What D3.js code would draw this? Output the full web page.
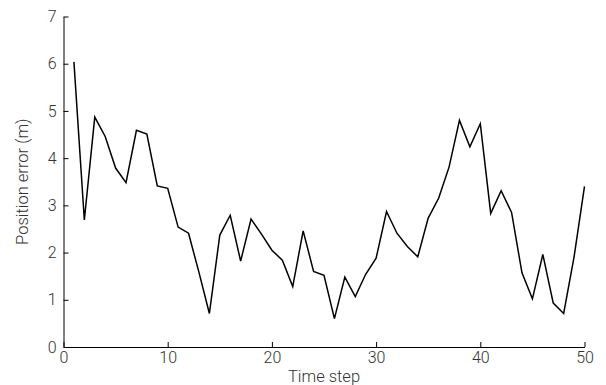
<!DOCTYPE html>
<html>
<head>
<meta charset="utf-8">
<script src="https://cdn.jsdelivr.net/npm/d3@7"></script>
<style>
  body { margin: 0; background: #fff; }
  .axis text { font-family: Roboto, "Liberation Sans", sans-serif; font-weight: 300; font-size: 16px; fill: #333; }
  .label { font-family: Roboto, "Liberation Sans", sans-serif; font-weight: 300; font-size: 16.5px; fill: #333; }
</style>
</head>
<body>
<svg id="chart" width="606" height="385"></svg>
<script>
// time steps 1..50 and the position error
const steps = d3.range(1, 51);
const errors = [
  6.04, 2.69, 4.87, 4.46, 3.79, 3.48, 4.59, 4.51, 3.41, 3.36,
  2.54, 2.41, 1.58, 0.71, 2.37, 2.79, 1.82, 2.71, 2.39, 2.05,
  1.84, 1.28, 2.46, 1.60, 1.52, 0.60, 1.48, 1.07, 1.54, 1.88,
  2.87, 2.41, 2.13, 1.91, 2.73, 3.15, 3.81, 4.80, 4.24, 4.73,
  2.83, 3.31, 2.85, 1.57, 1.02, 1.96, 0.93, 0.71, 1.91, 3.40
];
const xTicks = [0, 10, 20, 30, 40, 50];
const yTicks = [0, 1, 2, 3, 4, 5, 6, 7];

const margin = { top: 16.5, right: 21.5, bottom: 38, left: 63.5 };
const svg = d3.select('#chart');
const width = 606 - margin.left - margin.right,
      height = 385 - margin.top - margin.bottom;

const g = svg.append('g').attr('transform', `translate(${margin.left},${margin.top})`);

const x = d3.scaleLinear().domain([0, 50]).range([0, width]);
const y = d3.scaleLinear().domain([0, 7]).range([height, 0]);

g.append('g')
  .attr('class', 'axis')
  .attr('transform', `translate(0,${height})`)
  .call(d3.axisBottom(x).tickValues(xTicks).tickFormat(d3.format('d'))
    .tickSizeInner(-5).tickSizeOuter(0).tickPadding(5))
  .call(a => a.selectAll('line, path').attr('stroke', '#000'));

g.append('g')
  .attr('class', 'axis')
  .call(d3.axisLeft(y).tickValues(yTicks).tickFormat(d3.format('d'))
    .tickSizeInner(-5).tickSizeOuter(0).tickPadding(7))
  .call(a => a.selectAll('line, path').attr('stroke', '#000'));

const line = d3.line()
  .x((d, i) => x(steps[i]))
  .y(d => y(d));

g.append('path')
  .datum(errors)
  .attr('fill', 'none')
  .attr('stroke', '#000')
  .attr('stroke-width', 1.5)
  .attr('stroke-linejoin', 'miter')
  .attr('d', line);

svg.append('text')
  .attr('class', 'label')
  .attr('x', margin.left + width / 2)
  .attr('y', 382)
  .attr('text-anchor', 'middle')
  .text('Time step');

svg.append('text')
  .attr('class', 'label')
  .attr('transform', `translate(28,${margin.top + height / 2}) rotate(-90)`)
  .attr('text-anchor', 'middle')
  .text('Position error (m)');
</script>
</body>
</html>
